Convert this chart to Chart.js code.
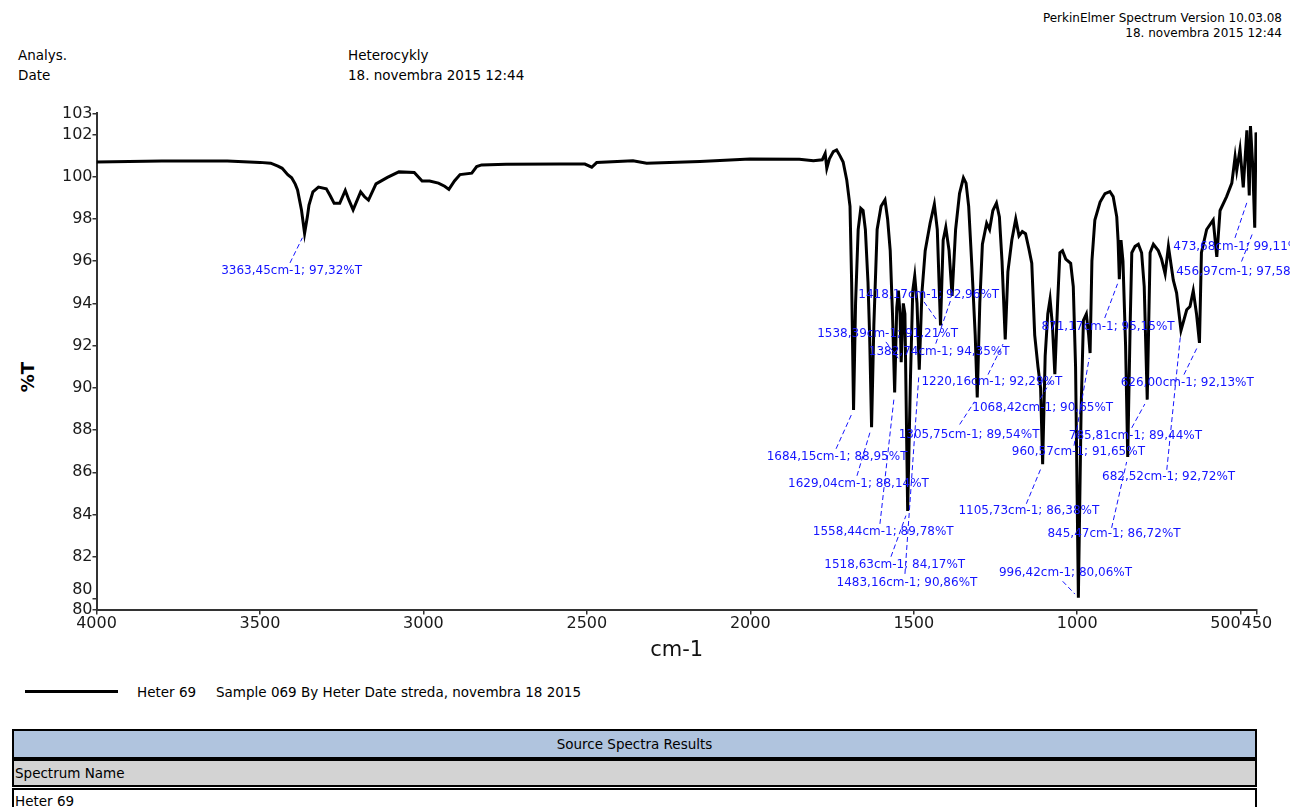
<!DOCTYPE html>
<html>
<head>
<meta charset="utf-8">
<title>Heter 69 - IR spectrum</title>
<script src="https://cdn.jsdelivr.net/npm/chart.js@4.4.1/dist/chart.umd.min.js"></script>
<style>
  body {
    margin: 0;
    width: 1290px;
    height: 807px;
    position: relative;
    overflow: hidden;
    background: #fff;
    color: #000;
    font-family: "DejaVu Sans", sans-serif;
  }
  .t { position: absolute; white-space: nowrap; line-height: 1; }
  .hdr-r { right: 8px; font-size: 12px; text-align: right; }
  .hdr { font-size: 13.5px; }
  #ytitle {
    position: absolute; left: 28px; top: 377px;
    font-size: 18px; font-weight: bold; line-height: 1;
    transform: translate(-50%, -50%) rotate(-90deg);
  }
  #plot { position: absolute; left: 0; top: 100px; width: 1290px; height: 570px; }
  #legline { position: absolute; left: 25px; top: 690px; width: 93px; height: 3px; background: #000; }
  .leg { font-size: 13.5px; top: 685.5px; }
  .row {
    position: absolute; left: 12px; width: 1245px; box-sizing: border-box;
    border: 2px solid #000; font-size: 13.5px; display: flex; align-items: center;
  }
  #r1 { top: 729px; height: 30px; background: #b0c4de; justify-content: center; }
  #r2 { top: 759px; height: 28px; background: #d3d3d3; padding-left: 1px; }
  #r3 { top: 788px; height: 30px; background: #fff; padding-left: 1px; align-items: flex-start; padding-top: 3px; }
</style>
</head>
<body>
<div class="t hdr-r" style="top:12px">PerkinElmer Spectrum Version 10.03.08</div>
<div class="t hdr-r" style="top:27px">18. novembra 2015 12:44</div>
<div class="t hdr" style="left:18px; top:48.5px">Analys.</div>
<div class="t hdr" style="left:18px; top:68.5px">Date</div>
<div class="t hdr" style="left:348px; top:48.5px">Heterocykly</div>
<div class="t hdr" style="left:348px; top:68.5px">18. novembra 2015 12:44</div>

<div id="ytitle">%T</div>
<div id="plot"><canvas id="spectrum" width="1290" height="570"></canvas></div>

<div id="legline"></div>
<div class="t leg" style="left:137px">Heter 69</div>
<div class="t leg" style="left:216px">Sample 069 By Heter Date streda, novembra 18 2015</div>

<div class="row" id="r1">Source Spectra Results</div>
<div class="row" id="r2">Spectrum Name</div>
<div class="row" id="r3">Heter 69</div>

<script>
// spectrum trace: wavenumber (cm-1) and transmittance (%T)
const wavenumbers = [
  4000, 3900, 3800, 3700, 3600, 3500, 3467, 3445, 3432, 3415, 3403, 3392, 3385, 3373,
  3363.45, 3355, 3350, 3338, 3321, 3297, 3285, 3273, 3256, 3239, 3228, 3215, 3192, 3180,
  3168, 3145, 3110, 3075, 3028, 3004, 2981, 2954, 2935, 2922, 2905, 2888, 2852, 2837,
  2822, 2747, 2582, 2506, 2485, 2470, 2359, 2317, 2154, 2001, 1850, 1807, 1780, 1771,
  1766, 1758, 1746, 1736, 1726, 1716, 1705, 1695, 1690, 1684.15, 1678, 1670, 1662, 1655,
  1648, 1640, 1635, 1629.04, 1622, 1612, 1600, 1588, 1580, 1572, 1565, 1558.44, 1552, 1547,
  1542, 1538.39, 1532, 1527, 1518.63, 1510, 1503, 1497, 1490, 1483.16, 1475, 1465, 1450, 1437,
  1428, 1418.17, 1410, 1402, 1392, 1382.74, 1372, 1360, 1348, 1340, 1332, 1322, 1312, 1305.75,
  1298, 1290, 1277, 1268, 1258, 1247, 1238, 1230, 1220.16, 1212, 1200, 1188, 1178, 1168,
  1158, 1148, 1139, 1130, 1120, 1112, 1105.73, 1098, 1090, 1083, 1076, 1068.42, 1060, 1053,
  1045, 1035, 1020, 1012, 1005, 996.42, 988, 981, 972, 965, 960.57, 955, 946, 930,
  915, 900, 890, 879, 875, 871.17, 866, 860, 852, 845.47, 838, 833, 823, 813,
  803, 795, 785.81, 777, 767, 752, 742, 731, 721, 706, 696, 682.52, 665, 655,
  645, 635, 626.00, 620, 604, 584, 573, 563, 543, 527, 517, 512, 502, 492,
  481, 473.68, 470, 463, 456.97, 453, 450
];
const transmittance = [
  100.70, 100.72, 100.74, 100.75, 100.74, 100.68, 100.64, 100.50, 100.40, 100.10, 99.95, 99.65, 99.37, 98.43,
  97.32, 98.10, 98.66, 99.28, 99.51, 99.43, 99.10, 98.74, 98.74, 99.35, 98.90, 98.43, 99.28, 99.05,
  98.89, 99.66, 99.97, 100.23, 100.20, 99.80, 99.80, 99.70, 99.55, 99.40, 99.80, 100.10, 100.17, 100.48,
  100.56, 100.59, 100.60, 100.60, 100.45, 100.67, 100.76, 100.64, 100.72, 100.84, 100.83, 100.76, 100.80, 101.10,
  100.40, 100.85, 101.19, 101.27, 101.00, 100.70, 99.85, 98.60, 95.00, 88.95, 94.00, 97.50, 98.50, 98.40,
  97.50, 95.00, 92.50, 88.14, 93.00, 97.50, 98.60, 98.90, 98.00, 96.50, 93.50, 89.78, 93.80, 94.60,
  93.50, 91.21, 94.00, 93.50, 84.17, 90.50, 94.60, 95.30, 94.00, 90.86, 94.50, 96.50, 97.80, 98.70,
  97.50, 92.96, 97.00, 97.60, 96.50, 94.35, 97.50, 99.20, 99.95, 99.70, 98.60, 95.70, 92.50, 89.54,
  94.00, 96.80, 97.80, 97.50, 98.40, 98.75, 98.10, 96.00, 92.29, 95.50, 97.00, 98.00, 97.20, 97.40,
  97.30, 96.60, 95.90, 92.50, 91.00, 90.00, 86.38, 91.50, 93.50, 94.20, 93.00, 90.65, 94.00, 96.40,
  96.50, 96.10, 95.90, 94.80, 91.00, 80.06, 89.00, 93.20, 93.50, 92.50, 91.65, 96.00, 97.95, 98.80,
  99.20, 99.30, 99.06, 98.10, 97.00, 95.15, 97.00, 96.00, 92.00, 86.72, 93.00, 96.40, 96.70, 96.80,
  96.40, 94.80, 89.44, 96.40, 96.80, 96.50, 96.10, 95.40, 96.70, 95.10, 94.50, 92.72, 93.70, 93.85,
  94.60, 93.50, 92.13, 96.40, 97.50, 97.95, 96.20, 98.40, 99.06, 99.70, 100.95, 100.30, 101.30, 99.50,
  102.20, 99.11, 102.40, 100.50, 97.58, 102.10, 101.20
];

// picked peaks
const peakWavenumbers = [
  3363.45, 1684.15, 1629.04, 1558.44, 1538.39, 1518.63, 1483.16, 1418.17, 1382.74, 1305.75, 1220.16,
  1105.73, 1068.42, 996.42, 960.57, 871.17, 845.47, 785.81, 682.52, 626.00, 473.68, 456.97
];
const peakTransmittance = [
  97.32, 88.95, 88.14, 89.78, 91.21, 84.17, 90.86, 92.96, 94.35, 89.54, 92.29,
  86.38, 90.65, 80.06, 91.65, 95.15, 86.72, 89.44, 92.72, 92.13, 99.11, 97.58
];

// axis ticks (79.5 is the bottom edge, printed rounded)
const xTicks = [4000, 3500, 3000, 2500, 2000, 1500, 1000, 500, 450];
const yTicks = [103, 102, 100, 98, 96, 94, 92, 90, 88, 86, 84, 82, 80, 79.5];

// where each peak label sits, px from its peak: [text dx, text dy, leader dx, leader dy]
const peakLabelOffsets = [
  [-13, 37.6, -14.6, 29.6], [-16.5, 47.3, -17.5, 38.8], [-13.1, 57.1, -14.6, 48.7],
  [-11.4, 139, -14.7, 131.4], [-13.6, -28, -15.3, -20.4], [-12.9, 53.8, -16.7, 45.8],
  [-12.3, 213.2, -14.3, 204.2], [-11.8, -30, -16.5, -23.5], [-12.9, 56.2, -16.3, 47.6],
  [-8.2, 37.3, -17.6, 26.9], [-13.4, 42, -17.2, 35.1], [-13.8, 47.1, -16.3, 39.5],
  [-12.1, 33.7, -14.5, 24.7], [-12.9, -24.9, -15.7, -16.4], [-11.7, 99.1, -16.1, 92.7],
  [-11.3, 47.4, -14.6, 38.9], [-13.7, 76.8, -16.1, 70.8], [-11.8, 35.8, -15.5, 28.2],
  [-12.4, 146.9, -14.2, 139.4], [-12.2, 40.3, -15.5, 31.7], [-9.3, 51.1, -14.3, 42.4],
  [-11.9, 43.7, -13.2, 33.7]
];

const comma = (v) => v.toFixed(2).replace('.', ',');

const peakLabels = {
  id: 'peakLabels',
  afterDatasetsDraw(chart) {
    const { ctx, scales: { x, y } } = chart;
    ctx.save();
    ctx.font = '12px "DejaVu Sans"';
    ctx.fillStyle = '#1414ff';
    ctx.strokeStyle = '#1414ff';
    ctx.lineWidth = 1;
    ctx.textAlign = 'center';
    ctx.textBaseline = 'middle';
    peakWavenumbers.forEach((wn, i) => {
      const px = x.getPixelForValue(wn);
      const py = y.getPixelForValue(peakTransmittance[i]);
      const [tx, ty, lx, ly] = peakLabelOffsets[i];
      const sx = px + lx;
      const sy = py + ly;
      // leader stops a few px short of the peak
      const len = Math.hypot(px - sx, py - sy);
      const k = (len - 5) / len;
      ctx.setLineDash([5, 3]);
      ctx.beginPath();
      ctx.moveTo(sx, sy);
      ctx.lineTo(sx + (px - sx) * k, sy + (py - sy) * k);
      ctx.stroke();
      ctx.setLineDash([]);
      ctx.fillText(`${comma(wn)}cm-1; ${comma(peakTransmittance[i])}%T`, px + tx, py + ty);
    });
    ctx.restore();
  },
};

const tickFont = { family: 'DejaVu Sans', size: 16 };

new Chart(document.getElementById('spectrum'), {
  type: 'line',
  data: {
    datasets: [
      {
        label: 'Heter 69',
        data: wavenumbers.map((wn, i) => ({ x: wn, y: transmittance[i] })),
        borderColor: '#000',
        borderWidth: 3,
        borderJoinStyle: 'miter',
        pointRadius: 0,
        tension: 0,
        fill: false,
      },
    ],
  },
  options: {
    responsive: false,
    animation: false,
    devicePixelRatio: 1,
    layout: { padding: { top: 13.4, right: 33, bottom: 0, left: 0 } },
    plugins: {
      legend: { display: false },
      tooltip: { enabled: false },
    },
    scales: {
      x: {
        type: 'linear',
        reverse: true,
        min: 450,
        max: 4000,
        afterBuildTicks: (s) => {
          s.ticks = xTicks.map((v) => ({ value: v }));
        },
        afterFit: (s) => {
          s.height = 60.5;
        },
        ticks: {
          autoSkip: false,
          maxRotation: 0,
          padding: 0,
          color: '#1a1a1a',
          font: tickFont,
          // 500 and 450 sit close together, push 500 left
          callback: (v) => (v === 500 ? '500      ' : String(v)),
        },
        grid: { drawOnChartArea: false, tickLength: 5, color: '#333', lineWidth: 1.5 },
        border: { color: '#333', width: 2 },
        title: {
          display: true,
          text: 'cm-1',
          color: '#111',
          font: { family: 'DejaVu Sans', size: 21 },
          padding: { top: 0, bottom: 7 },
        },
      },
      y: {
        min: 79.5,
        max: 103,
        afterBuildTicks: (s) => {
          s.ticks = yTicks.map((v) => ({ value: v }));
        },
        afterFit: (s) => {
          s.width = 96.5;
        },
        ticks: {
          autoSkip: false,
          padding: 0,
          color: '#1a1a1a',
          font: tickFont,
          callback: (v) => {
            if (v === 79.5) return '80';
            if (v === 80) return ['80', ''];
            return String(v);
          },
        },
        grid: { drawOnChartArea: false, tickLength: 4, color: '#333', lineWidth: 1.5 },
        border: { color: '#333', width: 2 },
      },
    },
  },
  plugins: [peakLabels],
});
</script>
</body>
</html>
